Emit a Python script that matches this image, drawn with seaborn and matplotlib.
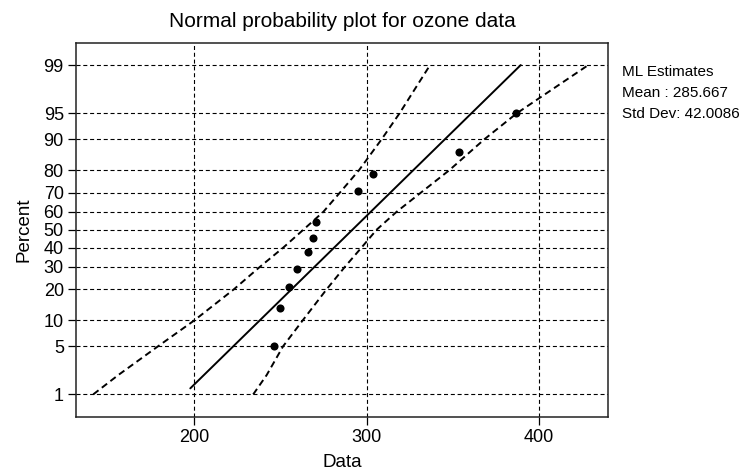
import numpy as np
import pandas as pd
import matplotlib
matplotlib.use("Agg")
import matplotlib.pyplot as plt
import seaborn as sns
from statistics import NormalDist

# data
ozone = [246.4, 249.7, 254.9, 259.6, 266.1, 268.9, 270.8, 295.0, 303.5, 353.8, 386.5]
ozone_pct = [5.0, 13.3, 21.0, 28.8, 37.5, 45.5, 54.5, 71.0, 78.5, 86.5, 95.0]

fit_x = [197.7, 389.4]
fit_pct = [1.25, 99.0]

band_pct = [1, 2, 5, 10, 20, 30, 40, 50, 60, 70, 80, 90, 95, 99]
upper_band_x = [141.4, 155.9, 179.1, 200.0, 223.0, 238.1, 251.6, 263.3, 274.9, 284.5, 295.6, 308.8, 319.1, 336.8]
lower_band_x = [234.2, 242.0, 251.6, 262.9, 276.8, 287.4, 297.0, 305.8, 317.4, 331.5, 348.0, 368.5, 387.1, 428.6]

pct_ticks = [1, 5, 10, 20, 30, 40, 50, 60, 70, 80, 90, 95, 99]
x_ticks = [200, 300, 400]

ml_mean = "285.667"
ml_sd = "42.0086"

# 📌 Style
sns.set_style("ticks")
plt.rcParams['font.family'] = ['Liberation Sans', 'DejaVu Sans']
plt.rcParams['lines.scale_dashes'] = False
plt.rcParams['text.color'] = "black"
plt.rcParams['axes.labelcolor'] = "black"

nd = NormalDist()
_inv = np.vectorize(nd.inv_cdf, otypes=[float])
_cdf = np.vectorize(nd.cdf, otypes=[float])

def to_z(p):
    p = np.clip(np.asarray(p, dtype=float) / 100.0, 1e-6, 1 - 1e-6)
    return _inv(p)

def from_z(z):
    return _cdf(np.asarray(z, dtype=float)) * 100.0

fig = plt.figure(figsize=(7.44, 4.73), dpi=100)
ax = fig.add_axes([0.1017, 0.119, 0.7159, 0.7907])
ax.set_yscale('function', functions=(to_z, from_z))

# 📌 Grid
for t in pct_ticks:
    ax.axhline(t, color="black", lw=0.8, ls=(0, (2.9, 2.0)), zorder=1)
for t in x_ticks:
    ax.axvline(t, color="black", lw=0.8, ls=(0, (2.9, 2.0)), zorder=1)

# 📌 Confidence bands and fitted line
up_df = pd.DataFrame({"x": upper_band_x, "p": band_pct})
lo_df = pd.DataFrame({"x": lower_band_x, "p": band_pct})
fit_df = pd.DataFrame({"x": fit_x, "p": fit_pct})
sns.lineplot(data=up_df, x="x", y="p", sort=False, estimator=None, color="black",
             lw=1.4, ax=ax, zorder=2)
sns.lineplot(data=lo_df, x="x", y="p", sort=False, estimator=None, color="black",
             lw=1.4, ax=ax, zorder=2)
for line in ax.get_lines()[-2:]:
    line.set_linestyle((0, (4.8, 3.0)))
sns.lineplot(data=fit_df, x="x", y="p", sort=False, estimator=None, color="black",
             lw=1.4, ax=ax, zorder=3)

# 📌 Points
pts = pd.DataFrame({"x": ozone, "p": ozone_pct})
sns.scatterplot(data=pts, x="x", y="p", color="black", s=34, edgecolor="black",
                linewidth=0, ax=ax, zorder=4)

ax.set_xlim(131.2, 440.2)
ax.set_ylim(0.412, 99.588)
ax.set_xticks(x_ticks)
ax.set_yticks(pct_ticks)
ax.set_yticklabels([str(t) for t in pct_ticks])
ax.yaxis.set_minor_locator(matplotlib.ticker.NullLocator())
ax.tick_params(axis="both", direction="out", length=5.5, width=0.9, color="black",
               labelsize=13, labelcolor="black", pad=3)

for sp in ax.spines.values():
    sp.set_visible(True)
    sp.set_color("#222222")
    sp.set_linewidth(1.1)

ax.set_xlabel("Data", fontsize=13.5, labelpad=6)
ax.set_ylabel("Percent", fontsize=13.5, labelpad=8)
ax.set_title("Normal probability plot for ozone data", fontsize=15, pad=11)

fig.text(0.8356, 0.848, "ML Estimates", fontsize=11, va="center", ha="left")
fig.text(0.8356, 0.803, "Mean : " + ml_mean, fontsize=11, va="center", ha="left")
fig.text(0.8356, 0.758, "Std Dev: " + ml_sd, fontsize=11, va="center", ha="left")

fig.savefig("out.png", dpi=100)
